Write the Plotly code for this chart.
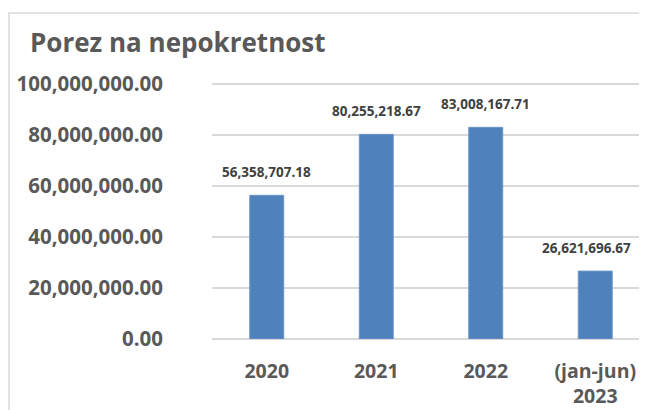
import plotly.graph_objects as go

categories = ["2020", "2021", "2022", "(jan-jun)<br>2023"]
values = [56358707.18, 80255218.67, 83008167.71, 26621696.67]
tick_vals = [0, 20000000, 40000000, 60000000, 80000000, 100000000]
tick_text = ["0.00", "20,000,000.00", "40,000,000.00", "60,000,000.00", "80,000,000.00", "100,000,000.00"]

OFF = 8  # page body margin offset
W, H = 647 - OFF, 410 - OFF
# desired screen coordinates of the plot area
SL, SR, ST, SB = 212, 647, 83, 339
L = SL - OFF
R = W - (SR - OFF)
T = ST - OFF
B = H - (SB - OFF)
FONT = "Open Sans"
CAT_STEP = 109.5  # px per category

fig = go.Figure(go.Bar(
    x=categories, y=values,
    marker=dict(color="#4F81BD", line=dict(color="#6A95CC", width=1)),
    hoverinfo="x+y",
))

pw = W - L - R
ph = H - T - B
annots = [dict(text="Porez na nepokretnost", xref="paper", yref="paper",
               x=(28 - SL) / pw, y=(SB - 42) / ph, xanchor="left", yanchor="middle",
               showarrow=False, font=dict(family=FONT, size=26, color="#595959", weight="bold"))]
for i, v in enumerate(values):
    annots.append(dict(x=i, y=v, xref="x", yref="y", text=f"{v:,.2f}", showarrow=False,
                       yanchor="middle", yshift=23, xshift=(-9 if i == len(values) - 1 else 0),
                       font=dict(family=FONT, size=13.5, color="#404040", weight="bold")))

fig.update_layout(
    width=W, height=H,
    margin=dict(l=L, r=R, t=T, b=B, pad=0, autoexpand=False),
    paper_bgcolor="white", plot_bgcolor="white",
    bargap=0.69,
    showlegend=False,
    font=dict(family=FONT, color="#595959"),
    xaxis=dict(showgrid=False, showline=False, ticks="", automargin=False,
               range=[-0.5, -0.5 + pw / CAT_STEP],
               tickfont=dict(size=19.5, color="#595959", weight="bold"),
               ticklabelstandoff=18),
    yaxis=dict(range=[0, 100400000], tickvals=tick_vals, ticktext=tick_text, showgrid=True, automargin=False,
               gridcolor="#D9D9D9", gridwidth=1.5, zeroline=True, zerolinecolor="#D9D9D9", zerolinewidth=1.5,
               showline=False, ticks="", tickfont=dict(size=20.5, color="#595959", weight="bold"),
               ticklabelstandoff=48),
    annotations=annots,
    shapes=[dict(type="rect", xref="paper", yref="paper",
                 x0=(9 - SL) / pw, x1=1.2, y0=-0.6, y1=(SB - 13) / ph,
                 line=dict(color="#D9D9D9", width=1.5), layer="below")],
)

fig.write_html("out.html")
